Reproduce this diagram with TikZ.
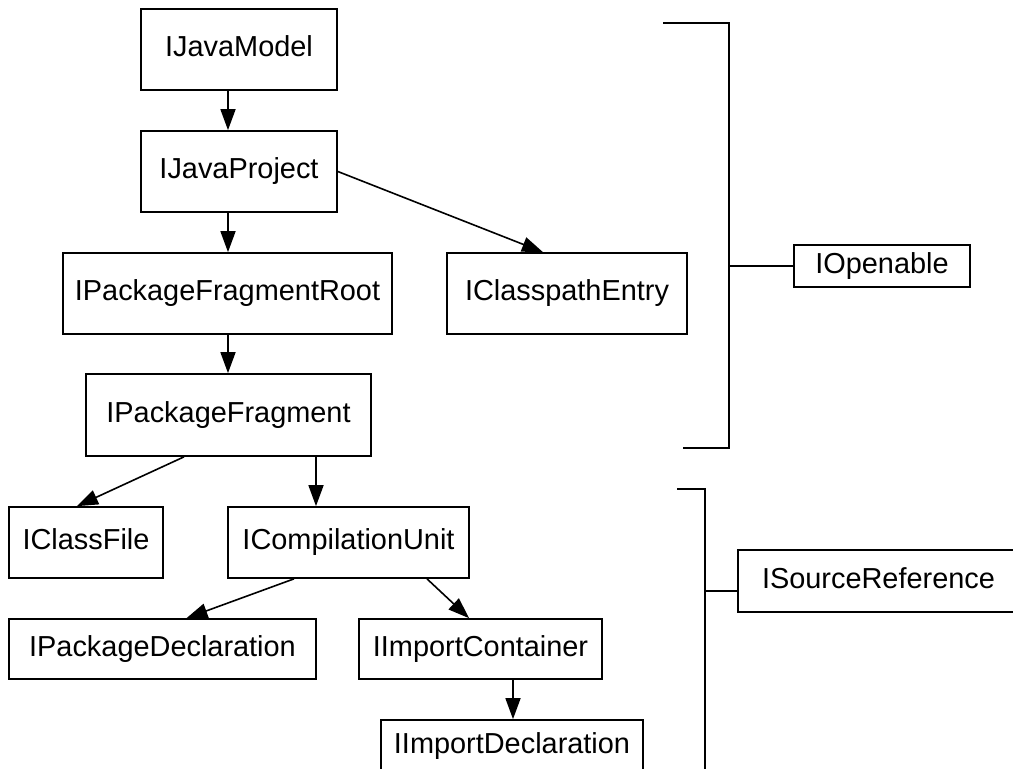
\documentclass[tikz,border=0pt]{standalone}
\usepackage{fontspec}
\setmainfont{Liberation Sans}
\usetikzlibrary{arrows.meta,calc}

\begin{document}
\begin{tikzpicture}[
  x=1pt, y=-1pt,
  box/.style={draw=black, line width=1.7pt, inner sep=0pt, fill=white,
    font=\fontsize{28.9}{34}\selectfont, text height=20.6pt, text depth=6pt},
  arr/.style={line width=1.6pt, -{Triangle[length=21pt,width=15pt]}},
  brk/.style={line width=1.6pt}
]
\clip (0,0) rectangle (1013,769);
\fill[white] (0,0) rectangle (1013,769);

% element hierarchy
\node[box, minimum width=196pt, minimum height=81pt] (jm)  at (239,49.5)   {IJavaModel};
\node[box, minimum width=196pt, minimum height=81pt] (jp)  at (239,171.5)  {IJavaProject};
\node[box, minimum width=329pt, minimum height=81pt] (pfr) at (227.5,293.5){IPackageFragmentRoot};
\node[box, minimum width=240pt, minimum height=81pt] (cpe) at (567,293.5)  {IClasspathEntry};
\node[box, minimum width=285pt, minimum height=82pt] (pf)  at (228.5,415)  {IPackageFragment};
\node[box, minimum width=154pt, minimum height=71pt] (cf)  at (86,542.5)   {IClassFile};
\node[box, minimum width=241pt, minimum height=71pt] (cu)  at (348.5,542.5){ICompilationUnit};
\node[box, minimum width=307pt, minimum height=60pt] (pd)  at (162.5,649)  {IPackageDeclaration};
\node[box, minimum width=243pt, minimum height=60pt] (ic)  at (480.5,649)  {IImportContainer};
\node[box, minimum width=262pt, minimum height=51.5pt] (id) at (512,745.75) {IImportDeclaration};

% interface boxes
\node[box, minimum width=176pt, minimum height=42pt] (op)  at (882,266)  {IOpenable};
\node[box, minimum width=281pt, minimum height=62pt] (sr)  at (878.5,581)  {ISourceReference};

% containment arrows
\draw[arr] ([xshift=-11pt]jm.south) -- ([xshift=-11pt]jp.north);
\draw[arr] ([xshift=-11pt]jp.south) -- ([xshift=0.5pt]pfr.north);
\draw[arr] (jp.east) -- ([xshift=-24pt]cpe.north);
\draw[arr] ([xshift=0.5pt]pfr.south) -- ([xshift=-0.5pt]pf.north);
\draw[arr] ([xshift=-44.5pt]pf.south) -- ([xshift=-9pt]cf.north);
\draw[arr] ([xshift=87.5pt]pf.south) -- ([xshift=-32.5pt]cu.north);
\draw[arr] ([xshift=-54.5pt]cu.south) -- ([xshift=24pt]pd.north);
\draw[arr] ([xshift=78.5pt]cu.south) -- ([xshift=-11.5pt]ic.north);
\draw[arr] ([xshift=32.5pt]ic.south) -- ([xshift=1pt]id.north);

% bracket grouping the openable elements
\coordinate (ot) at (663,23);
\coordinate (otc) at (729,23);
\coordinate (obc) at (729,448);
\coordinate (ob) at (683,448);
\draw[brk] (ot) -- (otc) -- (obc) -- (ob);
\draw[brk] (op.west -| otc) -- (op.west);

% bracket grouping the source references
\coordinate (st) at (677,489);
\coordinate (stc) at (705,489);
\coordinate (sbc) at (705,775);
\coordinate (srj) at ($(sr.west)+(0,10)$);
\draw[brk] (st) -- (stc) -- (sbc);
\draw[brk] (srj -| stc) -- (srj);
\end{tikzpicture}
\end{document}
